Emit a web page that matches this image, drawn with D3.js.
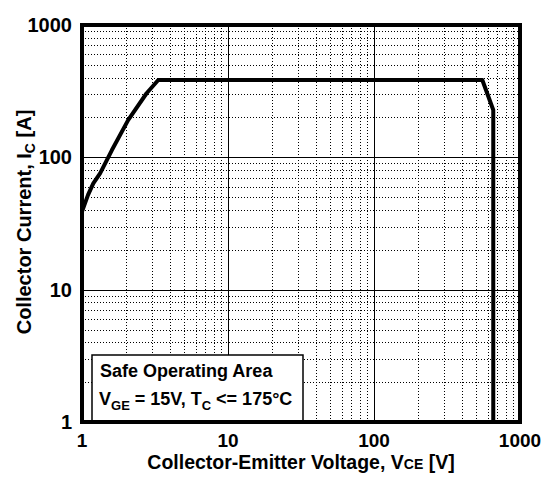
<!DOCTYPE html>
<html><head><meta charset="utf-8">
<script src="https://cdn.jsdelivr.net/npm/d3@7"></script>
<style>
body{margin:0;background:#fff;}
text{font-family:"Liberation Sans",Arial,sans-serif;font-weight:bold;fill:#000;}
</style></head>
<body><svg id="c" width="557" height="489"></svg>
<script>
// Data: Safe Operating Area boundary (V_CE [V], I_C [A])
const voltage = [1, 1.1, 1.195, 1.33, 1.6, 2.07, 2.77, 3.33, 552, 656, 656];
const current = [39, 52, 63.5, 75.7, 113, 191, 305, 384, 384, 228, 1];
const majorTicks = [1, 10, 100, 1000];
const tickLabels = ["1", "10", "100", "1000"];
const minorMult = [2, 3, 4, 5, 6, 7, 8, 9];
const xTitle = "Collector-Emitter Voltage, V";
const yTitle = "Collector Current, I";

const svg = d3.select("#c");
const L = 82, R = 520, T = 25, B = 422;
const x = d3.scaleLog().domain([1, 1000]).range([L, R]);
const y = d3.scaleLog().domain([1, 1000]).range([B, T]);
const px = v => Math.round(v) + 0.5;

const minors = [];
[1, 10, 100].forEach(d => minorMult.forEach(m => minors.push(d * m)));

const g = svg.append("g").attr("shape-rendering", "crispEdges");
// minor grid
g.selectAll(".vx").data(minors).join("line")
  .attr("x1", d => px(x(d))).attr("x2", d => px(x(d))).attr("y1", T).attr("y2", B)
  .attr("stroke", "#000").attr("stroke-width", 1).attr("stroke-dasharray", "1,2");
g.selectAll(".hy").data(minors).join("line")
  .attr("y1", d => px(y(d))).attr("y2", d => px(y(d))).attr("x1", L).attr("x2", R)
  .attr("stroke", "#000").attr("stroke-width", 1).attr("stroke-dasharray", "1,2");
// major grid
g.selectAll(".mx").data(majorTicks.slice(1, 3)).join("line")
  .attr("x1", d => px(x(d))).attr("x2", d => px(x(d))).attr("y1", T).attr("y2", B)
  .attr("stroke", "#000").attr("stroke-width", 1);
g.selectAll(".my").data(majorTicks.slice(1, 3)).join("line")
  .attr("y1", d => px(y(d))).attr("y2", d => px(y(d))).attr("x1", L).attr("x2", R)
  .attr("stroke", "#000").attr("stroke-width", 1);

// SOA curve
const pts = voltage.map((v, i) => [v, current[i]]);
svg.append("path").datum(pts)
  .attr("d", d3.line().x(d => x(d[0])).y(d => y(d[1])))
  .attr("fill", "none").attr("stroke", "#000").attr("stroke-width", 4)
  .attr("stroke-linejoin", "round");

// frame
svg.append("rect").attr("x", L).attr("y", T).attr("width", R - L).attr("height", B - T)
  .attr("fill", "none").attr("stroke", "#000").attr("stroke-width", 4);

// tick labels
svg.selectAll(".xl").data(majorTicks).join("text")
  .attr("x", d => x(d)).attr("y", 447).attr("text-anchor", "middle")
  .attr("font-size", 19).text((d, i) => tickLabels[i]);
svg.selectAll(".yl").data(majorTicks).join("text")
  .attr("x", 72).attr("y", d => y(d) + 7).attr("text-anchor", "end")
  .attr("font-size", 20).text((d, i) => tickLabels[i]);

// axis titles
const xt = svg.append("text").attr("x", 301).attr("y", 469).attr("text-anchor", "middle").attr("font-size", 19.5);
xt.append("tspan").text(xTitle);
xt.append("tspan").attr("font-size", 14).text("CE");
xt.append("tspan").text(" [V]");

const yt = svg.append("text").attr("transform", "translate(31,222) rotate(-90)")
  .attr("text-anchor", "middle").attr("font-size", 20);
yt.append("tspan").text(yTitle);
yt.append("tspan").attr("font-size", 14).attr("dy", 4).text("C");
yt.append("tspan").attr("dy", -4).text(" [A]");

// legend box
svg.append("rect").attr("x", 92).attr("y", 355).attr("width", 211).attr("height", 67)
  .attr("fill", "#fff").attr("stroke", "#000").attr("stroke-width", 1.5);
svg.append("text").attr("x", 100).attr("y", 377).attr("font-size", 18).text("Safe Operating Area");
const lt = svg.append("text").attr("x", 99).attr("y", 405).attr("font-size", 18);
lt.append("tspan").text("V");
lt.append("tspan").attr("font-size", 13).attr("dy", 5).text("GE");
lt.append("tspan").attr("dy", -5).text(" = 15V, T");
lt.append("tspan").attr("font-size", 13).attr("dy", 5).text("C");
lt.append("tspan").attr("dy", -5).text(" <= 175°C");
// frame bottom redraw over legend
svg.append("line").attr("x1", L).attr("x2", R).attr("y1", B).attr("y2", B).attr("stroke", "#000").attr("stroke-width", 4);
</script></body></html>
